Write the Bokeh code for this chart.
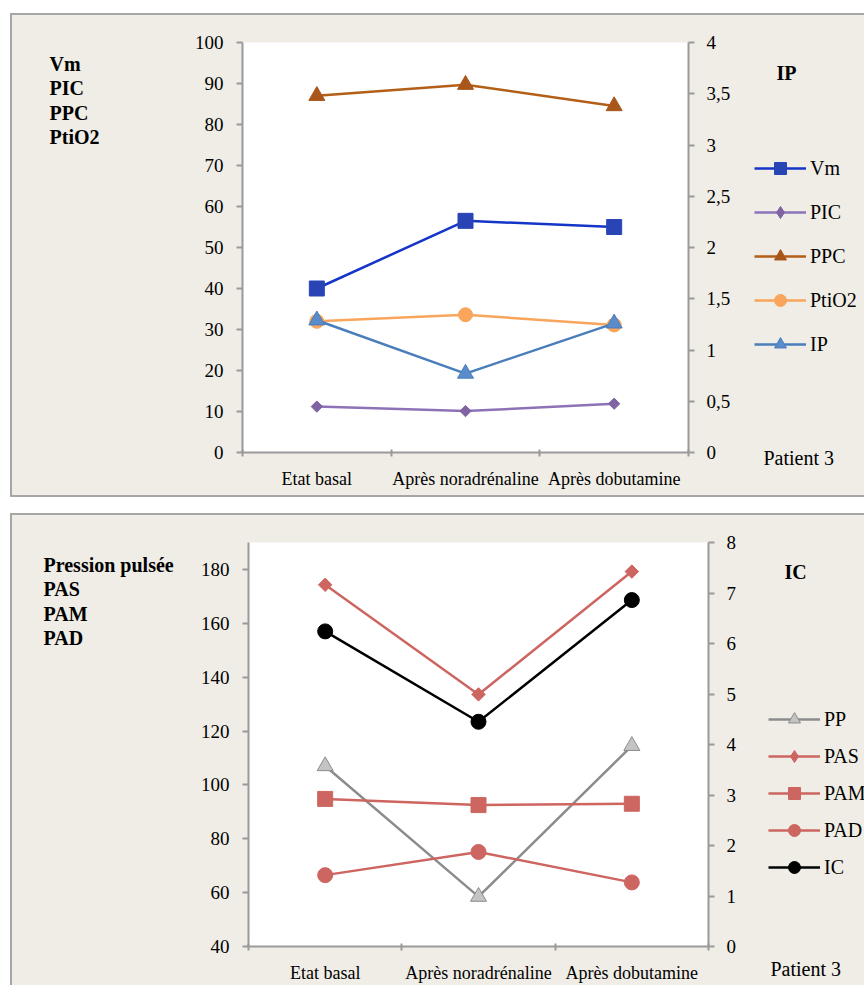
from bokeh.plotting import figure
from bokeh.models import (Range1d, LinearAxis, FixedTicker, CustomJSTickFormatter,
                          Legend, LegendItem, Label, Spacer)
from bokeh.layouts import column, row
from bokeh.embed import file_html
from bokeh.resources import INLINE
import numpy as np

# ---------------- data ----------------
categories = ["Etat basal", "Après noradrénaline", "Après dobutamine"]

# top panel (left axis: Vm, PIC, PPC, PtiO2 ; right axis: IP)
vm = [40.0, 56.5, 55.0]
pic = [11.2, 10.1, 11.9]
ppc = [87.0, 89.7, 84.5]
ptio2 = [32.0, 33.6, 31.1]
ip = [1.29, 0.77, 1.26]

# bottom panel (left axis: PP, PAS, PAM, PAD ; right axis: IC)
pp = [107.0, 58.5, 114.5]
pas = [174.3, 133.6, 179.2]
pam = [94.8, 92.5, 93.0]
pad = [66.5, 75.1, 63.8]
ic = [6.24, 4.45, 6.86]

top_left_ticks = [0, 10, 20, 30, 40, 50, 60, 70, 80, 90, 100]
top_right_ticks = [0, 0.5, 1, 1.5, 2, 2.5, 3, 3.5, 4]
bot_left_ticks = [40, 60, 80, 100, 120, 140, 160, 180]
bot_right_ticks = [0, 1, 2, 3, 4, 5, 6, 7, 8]

# ---------------- style ----------------
BG = "#EFEDE6"
AX = "#9A9A9A"
FONT = "Liberation Serif"
BORDER = "2px solid #A6A6A6"

xs = [i + 0.5 for i in range(len(categories))]


def no_align(p):
    p.title_location = None
    try:
        p.frame_align = False
    except Exception:
        pass


def make_main(width, height, fl, fr, ft, fb, yl, yr, left_ticks, right_ticks):
    p = figure(width=width, height=height,
               x_range=Range1d(0, len(categories)), y_range=Range1d(*yl),
               output_backend="svg", toolbar_location=None,
               min_border_left=fl, min_border_right=fr,
               min_border_top=ft, min_border_bottom=fb,
               background_fill_color="white", border_fill_color=BG,
               outline_line_color=None)
    no_align(p)
    p.grid.visible = False
    p.extra_y_ranges = {"r": Range1d(*yr)}

    xa = p.xaxis[0]
    xa.ticker = FixedTicker(ticks=xs, minor_ticks=list(range(len(categories) + 1)))
    xa.formatter = CustomJSTickFormatter(args=dict(labels=categories),
                                         code="return labels[Math.floor(tick)];")
    xa.major_tick_in = 0
    xa.major_tick_out = 0
    xa.major_tick_line_color = None
    xa.minor_tick_in = 3
    xa.minor_tick_out = 4
    xa.minor_tick_line_color = AX
    xa.minor_tick_line_width = 2
    xa.axis_line_color = AX
    xa.axis_line_width = 2
    xa.major_label_text_font = FONT
    xa.major_label_text_font_size = "18px"
    xa.major_label_text_color = "black"
    xa.major_label_standoff = 12

    ya = p.yaxis[0]
    ya.ticker = FixedTicker(ticks=left_ticks)
    ya.major_tick_in = 0
    ya.major_tick_out = 6
    ya.major_tick_line_color = AX
    ya.major_tick_line_width = 2
    ya.minor_tick_line_color = None
    ya.axis_line_color = AX
    ya.axis_line_width = 2
    ya.major_label_text_font = FONT
    ya.major_label_text_font_size = "19px"
    ya.major_label_text_color = "black"
    ya.major_label_standoff = 13

    ra = LinearAxis(y_range_name="r", ticker=FixedTicker(ticks=right_ticks),
                    formatter=CustomJSTickFormatter(code="return tick.toString().replace('.', ',');"))
    ra.major_tick_in = 0
    ra.major_tick_out = 6
    ra.major_tick_line_color = AX
    ra.major_tick_line_width = 2
    ra.minor_tick_line_color = None
    ra.axis_line_color = AX
    ra.axis_line_width = 2
    ra.major_label_text_font = FONT
    ra.major_label_text_font_size = "19px"
    ra.major_label_text_color = "black"
    ra.major_label_standoff = 12
    p.add_layout(ra, "right")
    return p


def make_aux(width, height):
    p = figure(width=width, height=height, x_range=Range1d(0, len(categories)), y_range=Range1d(0, 200),
               output_backend="svg", toolbar_location=None, x_axis_type=None, y_axis_type=None,
               min_border=0, min_border_left=0, min_border_right=0, min_border_top=0, min_border_bottom=0,
               background_fill_color=BG, border_fill_color=BG, outline_line_color=None)
    no_align(p)
    p.grid.visible = False
    return p


def series(p, ys, color, marker, size, mcolor=None, mline=None, angle=0.0, rng="default"):
    mcolor = mcolor or color
    mline = mline or mcolor
    p.line(xs, ys, line_color=color, line_width=2.5, y_range_name=rng)
    p.scatter(xs, ys, marker=marker, size=size, fill_color=mcolor, line_color=mline,
              line_width=1, angle=angle, y_range_name=rng)


def key(p, label, ys, color, marker, size, mcolor=None, mline=None):
    # legend sample: the series drawn hidden in the legend's own canvas
    mcolor = mcolor or color
    mline = mline or mcolor
    lr = p.line(xs, ys, line_color=color, line_width=2.5, visible=False)
    sr = p.scatter(xs, ys, marker=marker, size=size, fill_color=mcolor, line_color=mline,
                   line_width=1, visible=False)
    return LegendItem(label=label, renderers=[lr, sr])


def text(p, s, px, py, org, bold=False, size="20px"):
    ox, oy = org  # page position of the canvas' left / bottom edge
    p.add_layout(Label(x=px - ox, y=oy - py, x_units="screen", y_units="screen",
                       text=s, text_font=FONT, text_font_size=size,
                       text_font_style="bold" if bold else "normal",
                       text_baseline="alphabetic", text_color="black"))


def legend(p, items, lx, ltop, org, spacing):
    ox, oy = org
    gh = 30
    n = len(items)
    bottom = ltop + n * gh + (n - 1) * spacing
    lg = Legend(items=items, location=(lx - ox, oy - bottom),
                glyph_width=52, glyph_height=gh, label_height=gh, spacing=spacing,
                padding=0, margin=0, label_standoff=4, border_line_color=None,
                background_fill_alpha=0, label_text_font=FONT,
                label_text_font_size="20px", label_text_color="black")
    p.add_layout(lg)


# ---------------- top panel ----------------
# canvas page box: x 12..864, y 15..495 ; frame: x 242..688, y 42..452
H1 = 480
L1 = make_aux(168, H1)             # x 12..180
M1 = make_main(560, H1, 62, 52, 27, 43, (0, 100), (0, 4), top_left_ticks, top_right_ticks)  # x 180..740
R1 = make_aux(124, H1)             # x 740..864
series(M1, vm, "#1534C8", "square", 15, mcolor="#2945B5")
series(M1, pic, "#8E72B8", "square", 8, mcolor="#8064A2", angle=np.pi / 4)
series(M1, ppc, "#B35F17", "triangle", 16, mcolor="#A8561A")
series(M1, ptio2, "#F9A55B", "circle", 14, mcolor="#F9A55B")
series(M1, ip, "#4A7EBB", "triangle", 16, mcolor="#5A8BCB", mline="#4A7EBB", rng="r")

orgL1, orgR1 = (12, 495), (740, 495)
for s, y in zip(["Vm", "PIC", "PPC", "PtiO2"], [63, 87, 112, 136]):
    text(L1, s, 49, y, orgL1, bold=True)
text(R1, "IP", 776, 72, orgR1, bold=True)
text(R1, "Patient 3", 763, 457, orgR1)
legend(R1, [key(R1, "Vm", vm, "#1534C8", "square", 15, mcolor="#2945B5"),
            key(R1, "PIC", pic, "#8E72B8", "diamond", 15, mcolor="#8064A2"),
            key(R1, "PPC", ppc, "#B35F17", "triangle", 16, mcolor="#A8561A"),
            key(R1, "PtiO2", ptio2, "#F9A55B", "circle", 14),
            key(R1, "IP", ip, "#4A7EBB", "triangle", 16, mcolor="#5A8BCB", mline="#4A7EBB")],
       754, 153, orgR1, 14)

panel1 = row(L1, M1, R1)
panel1.styles = {"border-top": BORDER, "border-left": BORDER, "border-bottom": BORDER,
                 "background-color": BG}

# ---------------- bottom panel ----------------
# canvas page box: x 12..864, y 515..985 ; frame: x 248..708, y 542..949
H2 = 470
L2 = make_aux(178, H2)             # x 12..190
M2 = make_main(555, H2, 58, 37, 27, 36, (40, 190), (0, 8), bot_left_ticks, bot_right_ticks)  # x 190..745
R2 = make_aux(119, H2)             # x 745..864
RED = "#CD6561"
series(M2, pp, "#8C8C8C", "triangle", 16, mcolor="#C4C4C4", mline="#8C8C8C")
series(M2, pas, RED, "square", 9.5, angle=np.pi / 4)
series(M2, pam, RED, "square", 15)
series(M2, pad, RED, "circle", 15)
series(M2, ic, "black", "circle", 15, rng="r")

orgL2, orgR2 = (12, 985), (745, 985)
for s, y in zip(["Pression pulsée", "PAS", "PAM", "PAD"], [564, 588, 613, 637]):
    text(L2, s, 43, y, orgL2, bold=True)
text(R2, "IC", 784, 571, orgR2, bold=True)
text(R2, "Patient 3", 770, 968, orgR2)
legend(R2, [key(R2, "PP", pp, "#8C8C8C", "triangle", 16, mcolor="#C4C4C4", mline="#8C8C8C"),
            key(R2, "PAS", pas, RED, "diamond", 15),
            key(R2, "PAM", pam, RED, "square", 15),
            key(R2, "PAD", pad, RED, "circle", 15),
            key(R2, "IC", ic, "black", "circle", 15)],
       768, 704, orgR2, 7)

panel2 = row(L2, M2, R2)
panel2.styles = {"border-top": BORDER, "border-left": BORDER, "background-color": BG}

layout = column(Spacer(height=13),
                row(Spacer(width=10), panel1),
                Spacer(height=16),
                row(Spacer(width=10), panel2))
open("out.html", "w").write(file_html(layout, INLINE))
